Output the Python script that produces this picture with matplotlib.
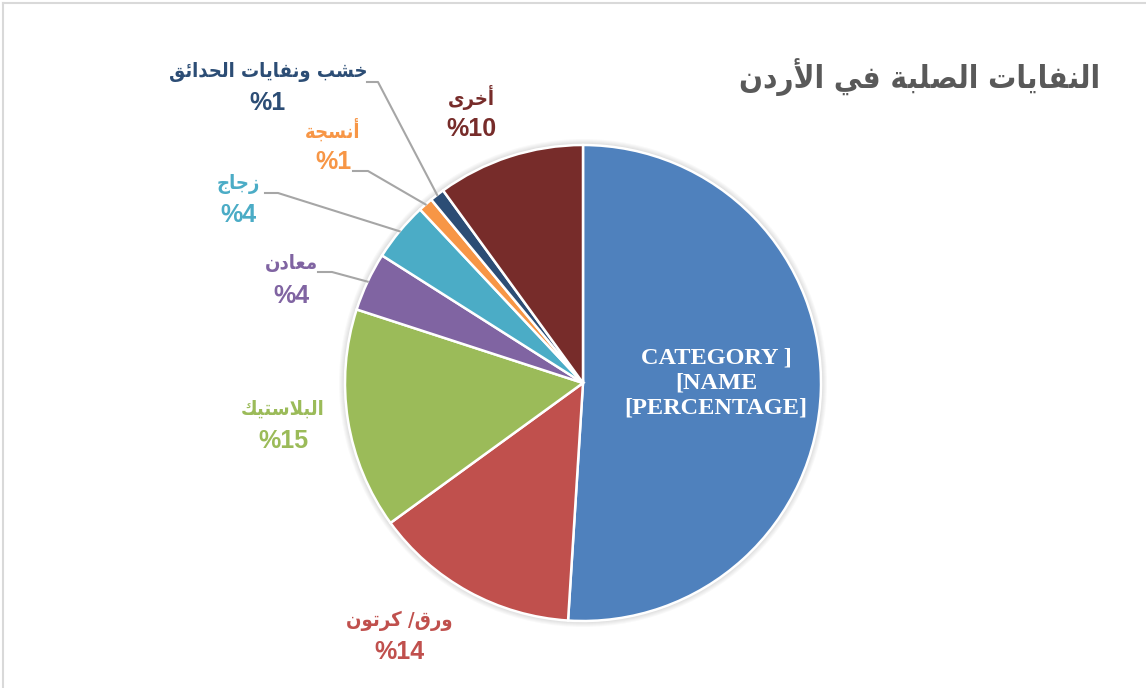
import numpy as np
import matplotlib
matplotlib.use("Agg")
import matplotlib.pyplot as plt
from matplotlib.lines import Line2D

# --- data ---
categories = ["CATEGORY ]\n[NAME\n[PERCENTAGE]", "ورق/ كرتون", "البلاستيك", "معادن",
              "زجاج", "أنسجة", "خشب ونفايات الحدائق", "أخرى"]
values = [51, 14, 15, 4, 4, 1, 1, 10]
colors = ["#4F81BD", "#C0504D", "#9BBB59", "#8064A2", "#4BACC6", "#F79646", "#2C4D75", "#772C2A"]
title = "النفايات الصلبة في الأردن"

W, H = 1146, 688

# presentation forms (base, nb forms) for the letters we need
AR_FORMS = {
    'ء': (0xFE80, 1), 'آ': (0xFE81, 2), 'أ': (0xFE83, 2), 'ؤ': (0xFE85, 2),
    'إ': (0xFE87, 2), 'ئ': (0xFE89, 4), 'ا': (0xFE8D, 2), 'ب': (0xFE8F, 4),
    'ة': (0xFE93, 2), 'ت': (0xFE95, 4), 'ث': (0xFE99, 4), 'ج': (0xFE9D, 4),
    'ح': (0xFEA1, 4), 'خ': (0xFEA5, 4), 'د': (0xFEA9, 2), 'ذ': (0xFEAB, 2),
    'ر': (0xFEAD, 2), 'ز': (0xFEAF, 2), 'س': (0xFEB1, 4), 'ش': (0xFEB5, 4),
    'ص': (0xFEB9, 4), 'ض': (0xFEBD, 4), 'ط': (0xFEC1, 4), 'ظ': (0xFEC5, 4),
    'ع': (0xFEC9, 4), 'غ': (0xFECD, 4), 'ف': (0xFED1, 4), 'ق': (0xFED5, 4),
    'ك': (0xFED9, 4), 'ل': (0xFEDD, 4), 'م': (0xFEE1, 4), 'ن': (0xFEE5, 4),
    'ه': (0xFEE9, 4), 'و': (0xFEED, 2), 'ى': (0xFEEF, 2), 'ي': (0xFEF1, 4),
}
LAM_ALEF = {'ا': 0xFEFB, 'أ': 0xFEF7, 'إ': 0xFEF9, 'آ': 0xFEF5}


def shape_ar(text):
    # minimal arabic shaping + reverse for display (no bidi lib available)
    toks = []
    i = 0
    while i < len(text):
        c = text[i]
        if c == 'ل' and i + 1 < len(text) and text[i + 1] in LAM_ALEF:
            toks.append(('LA', text[i + 1]))
            i += 2
        else:
            toks.append(('C', c))
            i += 1

    def dual(t):
        return t is not None and t[0] == 'C' and t[1] in AR_FORMS and AR_FORMS[t[1]][1] == 4

    def arabic(t):
        return t is not None and (t[0] == 'LA' or t[1] in AR_FORMS)

    out = []
    for k, (kind, c) in enumerate(toks):
        prev = toks[k - 1] if k > 0 else None
        nxt = toks[k + 1] if k + 1 < len(toks) else None
        jp = dual(prev)
        if kind == 'LA':
            out.append(chr(LAM_ALEF[c] + (1 if jp else 0)))
            continue
        if c not in AR_FORMS:
            out.append(c)
            continue
        base, n = AR_FORMS[c]
        jn = n == 4 and arabic(nxt)
        if n == 1:
            idx = 0
        elif jp and jn:
            idx = 3
        elif jp:
            idx = 1
        elif jn:
            idx = 2
        else:
            idx = 0
        out.append(chr(base + idx))
    return ''.join(reversed(out))


def fy(y):
    return H - y


fig = plt.figure(figsize=(W / 100, H / 100), dpi=100)
ax = fig.add_axes([0, 0, 1, 1])

cx, cy, R = 583, fy(383), 238

# soft shadow behind pie
for k in range(6):
    ax.add_patch(plt.Circle((cx, cy), R + 1 + k, color="#000000", alpha=0.025, zorder=0, lw=0))

wedges, _ = ax.pie(values, colors=colors, startangle=90, counterclock=False,
                   center=(cx, cy), radius=R,
                   wedgeprops=dict(edgecolor="white", linewidth=1.8))
ax.set_xlim(0, W)
ax.set_ylim(0, H)
ax.set_aspect("equal")
ax.axis("off")

# border of the chart area
fig.add_artist(Line2D([3 / W, 1], [1 - 3 / H, 1 - 3 / H], color="#D9D9D9", lw=1.5))
fig.add_artist(Line2D([3 / W, 3 / W], [0, 1 - 3 / H], color="#D9D9D9", lw=1.5))

ax.text(1100, fy(77), shape_ar(title), ha="right", va="center", fontsize=22.5,
        fontweight="bold", fontstretch="condensed", color="#595959", family="DejaVu Sans")

# label positions (x, y line1, y line2) in pixels, leader (start x, knee x, y) or None
lab_pos = {
    1: (399, 621, 652, None),
    2: (283, 409, 441, None),
    3: (291, 264, 296, (318, 332, 272)),
    4: (238, 184, 215, (265, 278, 193)),
    5: (333, 130, 162, (353, 368, 171)),
    6: (268, 72, 103, (367, 378, 82)),
    7: (471, 97, 129, None),
}

for i, w in enumerate(wedges):
    if i == 0:
        ax.text(716, fy(383), categories[0], ha="center", va="center", fontsize=17.5,
                fontweight="bold", color="white", family="Liberation Serif",
                linespacing=1.22)
        continue
    x, y1, y2, lead = lab_pos[i]
    ax.text(x, fy(y1), shape_ar(categories[i]), ha="center", va="center", fontsize=14.5,
            fontweight="bold", fontstretch="condensed", color=colors[i], family="DejaVu Sans")
    ax.text(x, fy(y2), "%" + str(values[i]), ha="center", va="center", fontsize=18,
            fontweight="bold", color=colors[i], family="Liberation Sans")
    if lead is not None:
        mid = np.deg2rad((w.theta1 + w.theta2) / 2)
        ex = cx + R * np.cos(mid)
        ey = cy + R * np.sin(mid)
        ax.plot([lead[0], lead[1], ex], [fy(lead[2]), fy(lead[2]), ey],
                color="#A6A6A6", lw=1.5, zorder=5)

fig.savefig("out.png", dpi=100)
